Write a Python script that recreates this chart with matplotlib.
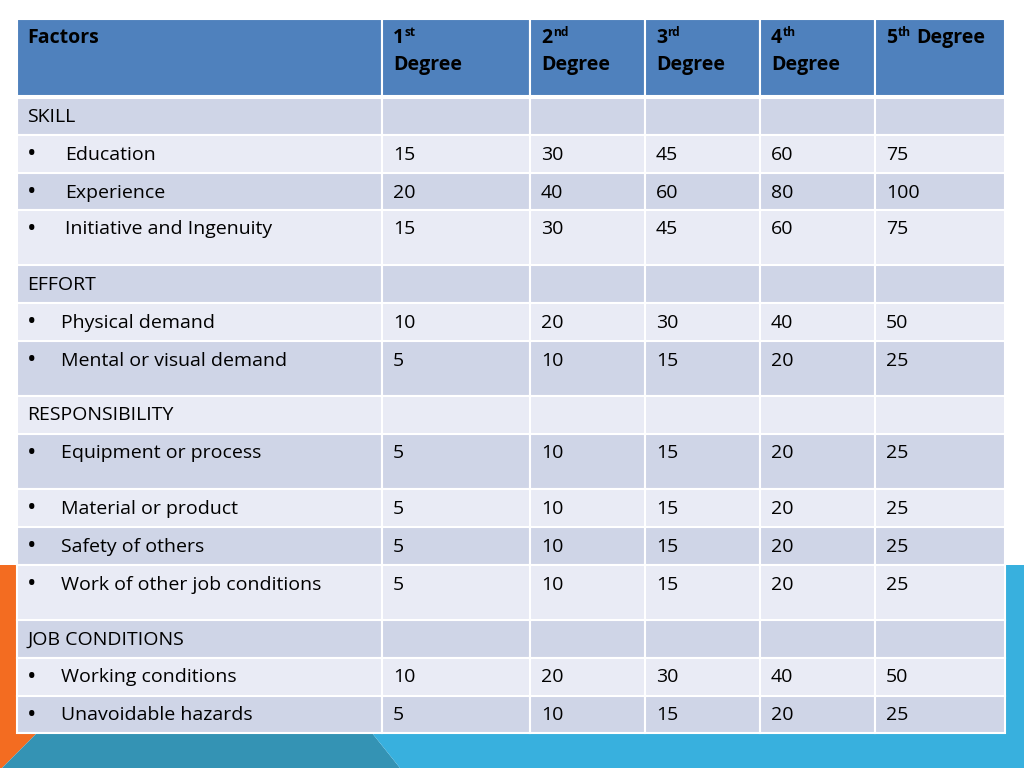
import matplotlib.pyplot as plt
from matplotlib.patches import Rectangle, Polygon

plt.rcParams['font.family'] = ['Open Sans', 'DejaVu Sans']

# table content
ordinals = ["1", "2", "3", "4", "5"]
suffixes = ["st", "nd", "rd", "th", "th"]
row_labels = ["SKILL", "Education", "Experience", "Initiative and Ingenuity",
              "EFFORT", "Physical demand", "Mental or visual demand",
              "RESPONSIBILITY", "Equipment or process", "Material or product",
              "Safety of others", "Work of other job conditions",
              "JOB CONDITIONS", "Working conditions", "Unavoidable hazards"]
is_section = [True, False, False, False, True, False, False, True, False,
              False, False, False, True, False, False]
first_degree = [None, 15, 20, 15, None, 10, 5, None, 5, 5, 5, 5, None, 10, 5]
steps = [1, 2, 3, 4, 5]

# layout (pixels)
col_edges = [17, 382, 530, 645, 760, 875, 1005]
row_heights = [37, 38, 37, 55, 38, 38, 55, 38, 55, 38, 38, 55, 38, 38, 37]
header_top, header_bot = 19, 96

HEADER = "#4F81BD"
DARK = "#CFD5E7"
LIGHT = "#E9EBF5"

fig = plt.figure(figsize=(10.24, 7.68), dpi=100)
ax = fig.add_axes([0, 0, 1, 1])
ax.set_xlim(0, 1024)
ax.set_ylim(768, 0)
ax.axis('off')

# background decorations
ax.add_patch(Polygon([(0, 565), (17, 565), (17, 733), (37, 733), (2, 768), (0, 768)],
                     closed=True, color="#F36C21", lw=0))
ax.add_patch(Polygon([(37, 733), (372, 733), (400, 768), (2, 768)],
                     closed=True, color="#3493B4", lw=0))
ax.add_patch(Polygon([(1005, 565), (1024, 565), (1024, 768), (400, 768), (372, 733), (1005, 733)],
                     closed=True, color="#38B0DE", lw=0))

# header
for c in range(6):
    x0, x1 = col_edges[c], col_edges[c + 1]
    ax.add_patch(Rectangle((x0, header_top), x1 - x0, header_bot - header_top,
                           facecolor=HEADER, edgecolor="white", lw=1.5))

fs = 14.0
renderer = fig.canvas.get_renderer()


def right_edge(t):
    bb = t.get_window_extent(renderer)
    return ax.transData.inverted().transform((bb.x1, bb.y0))[0]


ax.text(27, header_top + 19, "Factors", fontsize=fs, fontweight='bold',
        va='center', ha='left')
for i in range(5):
    x = col_edges[i + 1] + 11
    t = ax.text(x, header_top + 19, ordinals[i], fontsize=fs, fontweight='bold',
                va='center', ha='left')
    xs = right_edge(t) + 0.5
    s = ax.text(xs, header_top + 14, suffixes[i], fontsize=fs * 0.62, fontweight='bold',
                va='center', ha='left')
    if i < 4:
        ax.text(x, header_top + 46, "Degree", fontsize=fs, fontweight='bold',
                va='center', ha='left')
    else:
        ax.text(right_edge(s) + 5, header_top + 19, "Degree", fontsize=fs,
                fontweight='bold', va='center', ha='left')

# body
y = header_bot + 2
for r, label in enumerate(row_labels):
    h = row_heights[r]
    color = DARK if r % 2 == 0 else LIGHT
    for c in range(6):
        x0, x1 = col_edges[c], col_edges[c + 1]
        ax.add_patch(Rectangle((x0, y), x1 - x0, h, facecolor=color,
                               edgecolor="white", lw=1.5))
    ty = y + 19.5
    if is_section[r]:
        ax.text(27, ty, label, fontsize=fs, va='center', ha='left')
    else:
        ax.text(27, ty, "\u2022", fontsize=fs * 1.3, va='center', ha='left')
        indent = 65 if r < 4 else 61
        ax.text(indent, ty, label, fontsize=fs, va='center', ha='left')
        for k, s in enumerate(steps):
            ax.text(col_edges[k + 1] + 11, ty, str(first_degree[r] * s),
                    fontsize=fs, va='center', ha='left')
    y += h

fig.savefig("out.png", dpi=100)
